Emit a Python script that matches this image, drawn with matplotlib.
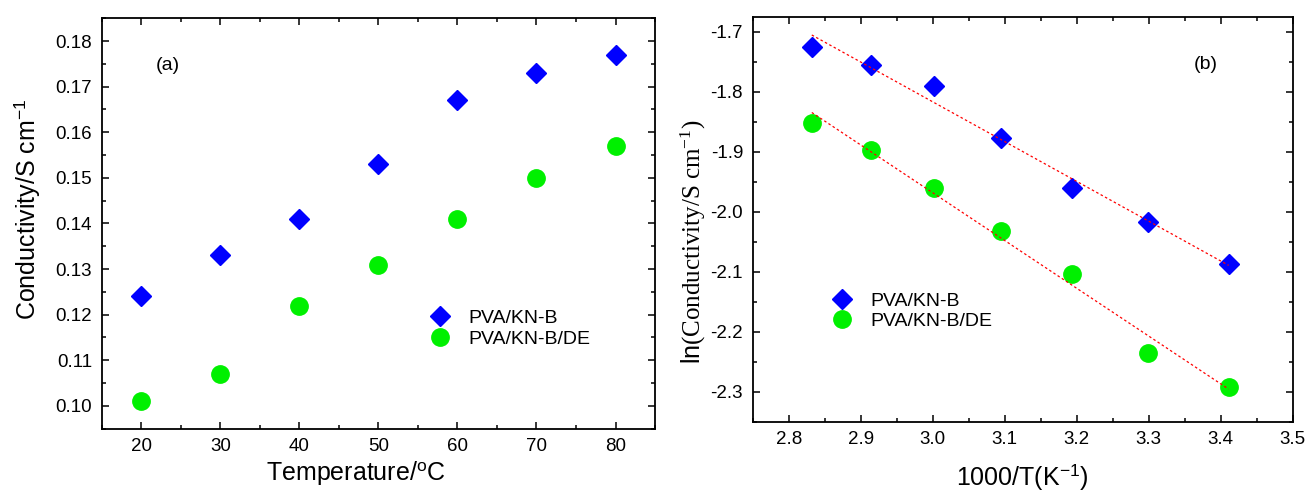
import numpy as np
import matplotlib
matplotlib.use('Agg')
import matplotlib.pyplot as plt
from matplotlib.ticker import MultipleLocator

plt.rcParams['font.family'] = ['Liberation Sans', 'DejaVu Sans']
plt.rcParams['mathtext.fontset'] = 'custom'
plt.rcParams['mathtext.rm'] = 'Liberation Serif'
plt.rcParams['mathtext.sf'] = 'Liberation Sans'
plt.rcParams['mathtext.it'] = 'Liberation Serif:italic'

# panel (a): conductivity vs temperature
temp = [20, 30, 40, 50, 60, 70, 80]
cond_kn = [0.124, 0.133, 0.141, 0.153, 0.167, 0.173, 0.177]
cond_de = [0.101, 0.107, 0.122, 0.131, 0.141, 0.150, 0.157]

# panel (b): Arrhenius plot
inv_t = [2.832, 2.914, 3.002, 3.095, 3.193, 3.299, 3.411]
ln_kn = [-1.725, -1.755, -1.790, -1.877, -1.960, -2.018, -2.088]
ln_de = [-1.852, -1.897, -1.960, -2.032, -2.104, -2.236, -2.292]

labels = ['PVA/KN-B', 'PVA/KN-B/DE']
blue = '#0000ff'
green = '#00f000'

fig = plt.figure(figsize=(13.08, 4.92), dpi=100)
ax1 = fig.add_axes([0.0778, 0.1287, 0.4230, 0.8341])
ax2 = fig.add_axes([0.5755, 0.1429, 0.4128, 0.8232])


def style(ax):
    for s in ax.spines.values():
        s.set_linewidth(1.3)
    ax.tick_params(which='both', direction='in', top=True, right=True,
                   labelsize=13.5, width=1.1, pad=7)
    ax.tick_params(which='major', length=5)
    ax.tick_params(which='minor', length=3)


# ---- (a)
ax1.plot(temp, cond_kn, 'D', color=blue, ms=10.5, mec=blue, label=labels[0])
ax1.plot(temp, cond_de, 'o', color=green, ms=12.5, mec=green, label=labels[1])
ax1.set_xlim(15, 85)
ax1.set_ylim(0.095, 0.185)
ax1.xaxis.set_major_locator(MultipleLocator(10))
ax1.xaxis.set_minor_locator(MultipleLocator(5))
ax1.yaxis.set_major_locator(MultipleLocator(0.01))
ax1.yaxis.set_minor_locator(MultipleLocator(0.005))
ax1.yaxis.set_major_formatter(plt.FormatStrFormatter('%.2f'))
style(ax1)
ax1.set_xlabel(r'Temperature/$^{\mathsf{o}}$C', fontsize=18)
ax1.set_ylabel(r'Conductivity/S cm$^{\mathsf{-1}}$', fontsize=18)
ax1.xaxis.set_label_coords(0.46, -0.108)
ax1.xaxis.label.set_va('center')
ax1.yaxis.set_label_coords(-0.135, 0.535)
ax1.yaxis.label.set_va('center')
ax1.text(0.12, 0.886, '(a)', transform=ax1.transAxes, fontsize=14,
         ha='center', va='center')
ax1.legend(loc='center left', bbox_to_anchor=(0.591, 0.244), frameon=False,
           fontsize=14, handlelength=1.2, handletextpad=0.85,
           labelspacing=0.15, borderpad=0, borderaxespad=0)

# ---- (b)
ax2.plot(inv_t, ln_kn, 'D', color=blue, ms=10.5, mec=blue, label=labels[0])
ax2.plot(inv_t, ln_de, 'o', color=green, ms=12.5, mec=green, label=labels[1])
xs = np.array([inv_t[0], inv_t[-1]])
for ys in (ln_kn, ln_de):
    k, b = np.polyfit(inv_t, ys, 1)
    ax2.plot(xs, k * xs + b, color='red', lw=0.9, ls=(0, (2, 2)))
ax2.set_xlim(2.75, 3.5)
ax2.set_ylim(-2.35, -1.675)
ax2.xaxis.set_major_locator(MultipleLocator(0.1))
ax2.xaxis.set_minor_locator(MultipleLocator(0.05))
ax2.yaxis.set_major_locator(MultipleLocator(0.1))
ax2.yaxis.set_minor_locator(MultipleLocator(0.05))
ax2.xaxis.set_major_formatter(plt.FormatStrFormatter('%.1f'))
ax2.yaxis.set_major_formatter(plt.FormatStrFormatter('%.1f'))
style(ax2)
ax2.set_xlabel(r'1000/T(K$^{\mathsf{-1}}$)', fontsize=18)
ax2.set_ylabel(r'ln$\mathrm{(Conductivity/S\ cm^{-1})}$', fontsize=18)
ax2.xaxis.set_label_coords(0.5, -0.136)
ax2.xaxis.label.set_va('center')
ax2.yaxis.set_label_coords(-0.109, 0.445)
ax2.yaxis.label.set_va('center')
ax2.text(0.839, 0.881, '(b)', transform=ax2.transAxes, fontsize=14,
         ha='center', va='center')
ax2.legend(loc='center left', bbox_to_anchor=(0.1445, 0.273), frameon=False,
           fontsize=14, handlelength=1.2, handletextpad=0.85,
           labelspacing=0.15, borderpad=0, borderaxespad=0)

fig.savefig('out.png', dpi=100)
